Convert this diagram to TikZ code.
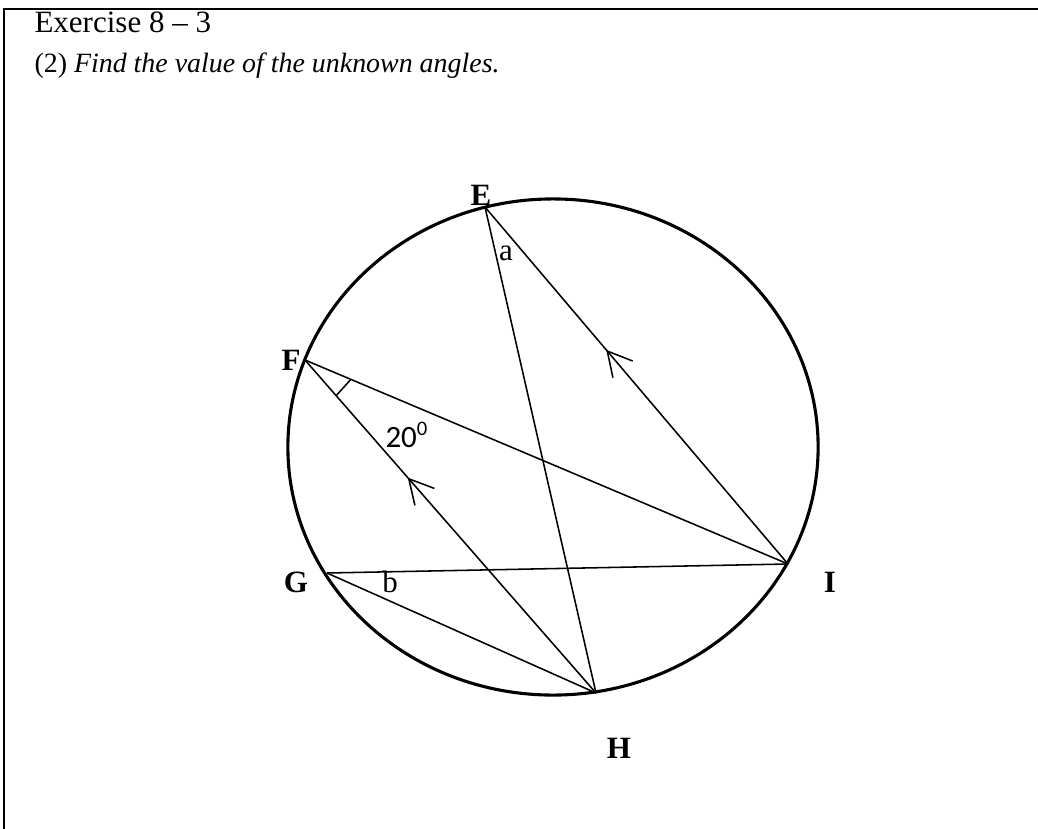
\documentclass[tikz,border=0pt,12pt]{standalone}
\usepackage{fontspec}
\setmainfont{Liberation Serif}
\newfontfamily\calibri{Carlito}
\usetikzlibrary{calc,arrows.meta,decorations.markings}

\begin{document}
\begin{tikzpicture}[x=0.387pt, y=-0.387pt, font=\fontsize{12}{14}\selectfont,
    frame/.style={draw=black, line width=1pt},
    rim/.style={draw=black, line width=1.2pt},
    chord/.style={draw=black, line width=0.6pt},
    ptlabel/.style={inner sep=0pt, anchor=base, font=\fontsize{12}{14}\selectfont\bfseries},
    anglabel/.style={inner sep=0pt, anchor=base},
    barb/.style={postaction={decorate}, decoration={markings,
        mark=at position #1 with {\arrow{Straight Barb[length=9.3pt, width=10pt, line width=0.6pt]}}}}]

    \useasboundingbox (0,0) rectangle (1038,829);
    \draw[frame] (4,829) -- (4,9) -- (1038,9);

    \node[anchor=base west, inner sep=0pt] (title) at (34,32) {Exercise 8 -- 3};
    \node[anchor=base west, inner sep=0pt, font=\fontsize{10.8}{13}\selectfont] (task) at (34,72)
        {(2) \textit{Find the value of the unknown angles.}};

    % circle and points on it
    \coordinate (O) at (553,447);
    \draw[rim] (O) ellipse [x radius=102.6pt, y radius=96pt];

    \coordinate (E) at (485,207);
    \coordinate (F) at (305,360);
    \coordinate (G) at (327,573);
    \coordinate (H) at (596,693);
    \coordinate (I) at (788,564);

    \node[ptlabel] (lE) at (481,205) {E};
    \node[ptlabel] (lF) at (291,370) {F};
    \node[ptlabel] (lG) at (296,592) {G};
    \node[ptlabel] (lH) at (619,758) {H};
    \node[ptlabel] (lI) at (830,592) {I};

    \foreach \a/\b in {E/H, F/I, G/I, G/H} \draw[chord] (\a) -- (\b);
    \foreach \a/\b/\p in {I/E/0.6, H/F/0.647} \draw[chord, barb=\p] (\a) -- (\b);

    % angle at F
    \coordinate (fh) at ($(F)!0.107!(H)$);
    \coordinate (fi) at ($(F)!0.095!(I)$);
    \draw[chord] (fh) -- (fi);

    \node[anglabel] (ang) at (506,260) {a};
    \node[anglabel] (angb) at (390,592) {b};
    \node[anglabel, anchor=base west, font=\fontsize{12}{14}\calibri] (angF) at (385,447) {20\textsuperscript{0}};
\end{tikzpicture}
\end{document}
